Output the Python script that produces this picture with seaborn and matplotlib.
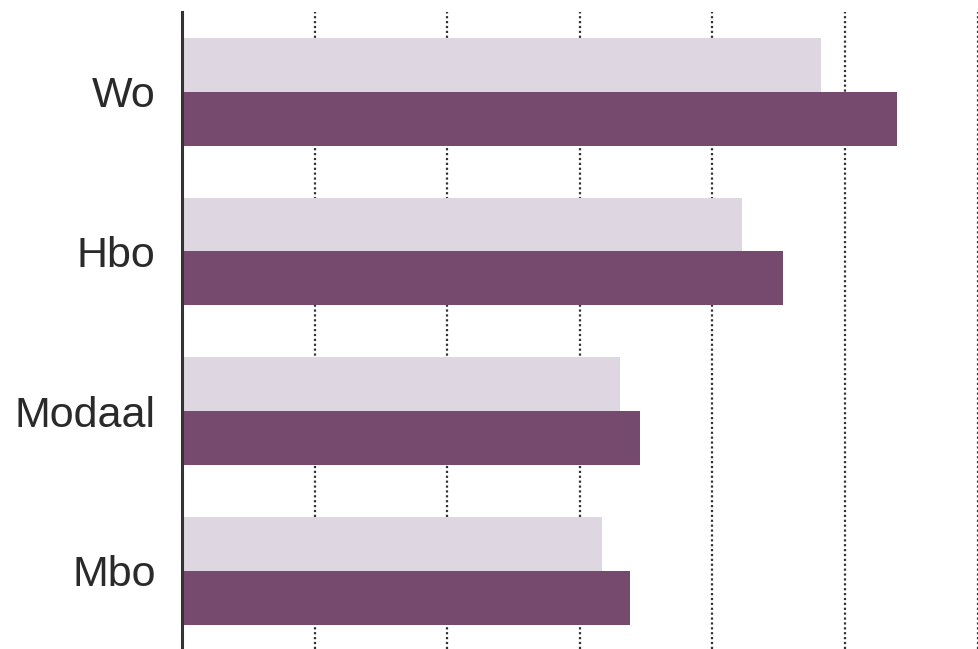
import pandas as pd
import matplotlib.pyplot as plt
import seaborn as sns

# opleidingsniveau, twee reeksen (licht = eerste meting, donker = tweede meting)
categories = ['Wo', 'Hbo', 'Modaal', 'Mbo']
series_names = ['meting 1', 'meting 2']
values_light = [4.82, 4.22, 3.30, 3.17]
values_dark = [5.39, 4.53, 3.45, 3.38]
colors = ['#ded6e0', '#764a6e']

df = pd.DataFrame({
    'opleiding': categories * 2,
    'reeks': [series_names[0]] * len(categories) + [series_names[1]] * len(categories),
    'waarde': values_light + values_dark,
})

sns.set_style('white')
plt.rcParams['font.family'] = ['Liberation Sans', 'DejaVu Sans']

fig = plt.figure(figsize=(9.79, 6.49), dpi=100)
ax = fig.add_axes([182 / 979, 0, (979 - 182) / 979, 637 / 649])

sns.barplot(data=df, y='opleiding', x='waarde', hue='reeks', orient='h',
            palette=colors, saturation=1, width=0.675, legend=False,
            errorbar=None, linewidth=0, ax=ax, zorder=2)

ax.set_xlim(0, 6.01)
ax.set_ylim(3.49, -0.5)
ax.set_xticks(range(1, 7))
ax.xaxis.grid(True, color='#333333', linestyle=(0, (1, 1.2)), linewidth=1.6, zorder=0)
ax.set_axisbelow(True)
ax.tick_params(axis='x', length=0, labelbottom=False)
ax.tick_params(axis='y', length=0, labelsize=31, labelcolor='#2a2a2a', pad=19)
ax.set_xlabel('')
ax.set_ylabel('')

for side in ['top', 'right', 'bottom']:
    ax.spines[side].set_visible(False)
ax.spines['left'].set_color('#333333')
ax.spines['left'].set_linewidth(2.2)

fig.savefig('out.png', dpi=100)
